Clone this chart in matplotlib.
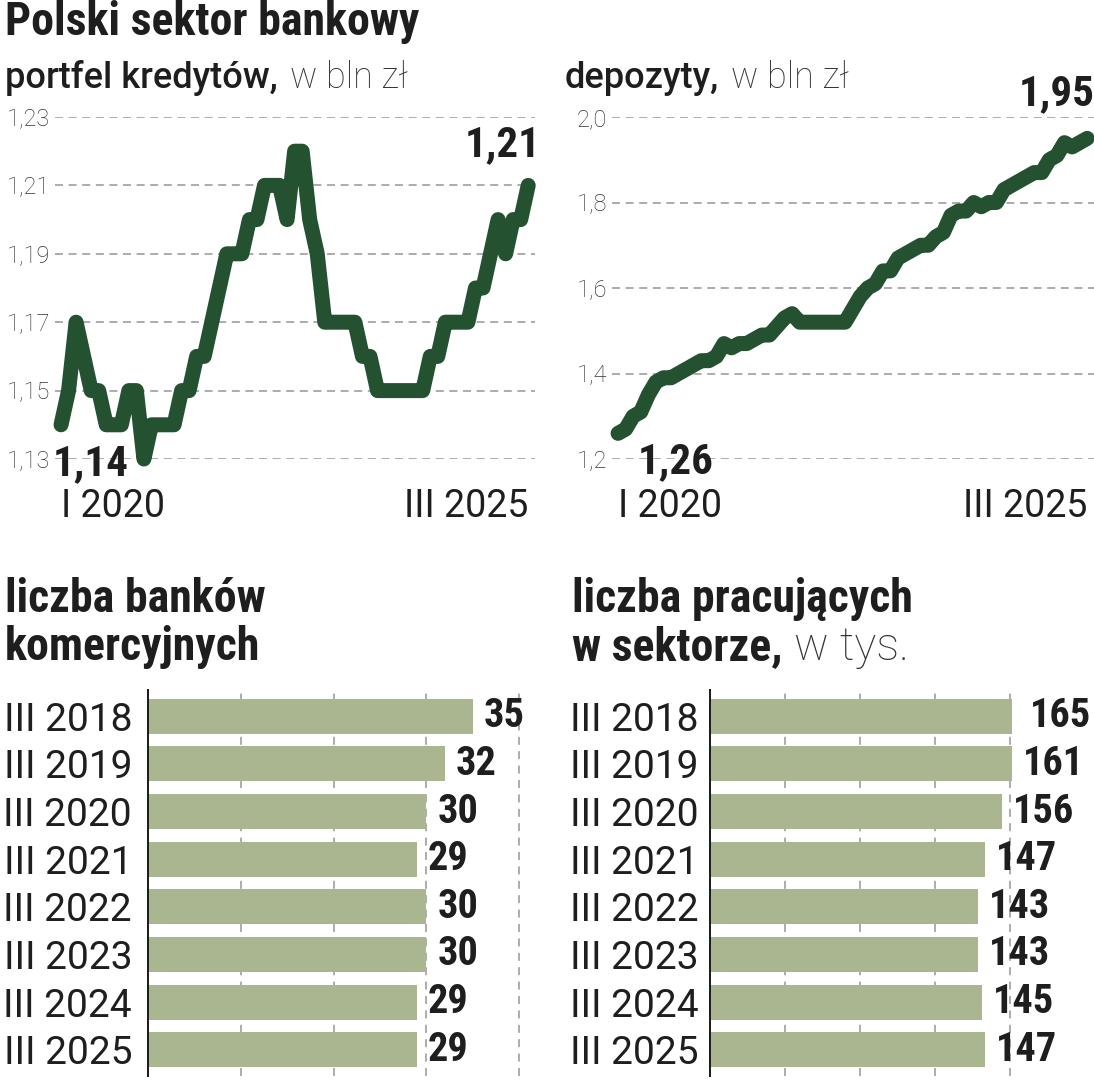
import matplotlib
matplotlib.use("Agg")
import matplotlib.pyplot as plt
from matplotlib import font_manager

# --- data -----------------------------------------------------------------
loans = [1.14, 1.15, 1.17, 1.16, 1.15, 1.15, 1.14, 1.14, 1.14, 1.15, 1.15, 1.13,
         1.14, 1.14, 1.14, 1.14, 1.15, 1.15, 1.16, 1.16, 1.17, 1.18, 1.19, 1.19,
         1.19, 1.20, 1.20, 1.21, 1.21, 1.21, 1.20, 1.22, 1.22, 1.20, 1.19, 1.17,
         1.17, 1.17, 1.17, 1.17, 1.16, 1.16, 1.15, 1.15, 1.15, 1.15, 1.15, 1.15,
         1.15, 1.16, 1.16, 1.17, 1.17, 1.17, 1.17, 1.18, 1.18, 1.19, 1.20, 1.19,
         1.20, 1.20, 1.21]
deposits = [1.26, 1.27, 1.30, 1.31, 1.35, 1.38, 1.39, 1.39, 1.40, 1.41, 1.42, 1.43,
            1.43, 1.44, 1.47, 1.46, 1.47, 1.47, 1.48, 1.49, 1.49, 1.51, 1.53, 1.54,
            1.52, 1.52, 1.52, 1.52, 1.52, 1.52, 1.52, 1.55, 1.58, 1.60, 1.61, 1.64,
            1.64, 1.67, 1.68, 1.69, 1.70, 1.70, 1.72, 1.73, 1.77, 1.78, 1.78, 1.80,
            1.79, 1.80, 1.80, 1.83, 1.84, 1.85, 1.86, 1.87, 1.87, 1.90, 1.91, 1.94,
            1.93, 1.94, 1.95]
loan_ticks = [1.13, 1.15, 1.17, 1.19, 1.21, 1.23]
deposit_ticks = [1.2, 1.4, 1.6, 1.8, 2.0]
period_start = "I 2020"
period_end = "III 2025"

years = ["III 2018", "III 2019", "III 2020", "III 2021",
         "III 2022", "III 2023", "III 2024", "III 2025"]
banks = [35, 32, 30, 29, 30, 30, 29, 29]
employees = [165, 161, 156, 147, 143, 143, 145, 147]

W, H = 1094, 1080
LINE = "#24512f"
BAR = "#a9b68f"
TXT = "#1e1e1e"
GRID = "#9a9a9a"


def pick_font(names):
    for n in names:
        try:
            font_manager.findfont(font_manager.FontProperties(family=n),
                                  fallback_to_default=False)
            return n
        except ValueError:
            pass
    return "DejaVu Sans"


NARROW = pick_font(["Roboto Condensed", "Liberation Sans Narrow", "Roboto"])
PLAIN = pick_font(["Roboto", "Open Sans", "Lato"])


def px(v):
    # pixels -> points at dpi 100
    return v * 0.72


def fx(x):
    return x / W


def fy(y):
    return 1 - y / H


fig = plt.figure(figsize=(W / 100, H / 100), dpi=100)
renderer = fig.canvas.get_renderer()


def mixed(x, y, first, rest, size, family, weight, gap=10):
    t = fig.text(fx(x), fy(y), first, fontsize=size, weight=weight,
                 family=family, color=TXT, va="baseline")
    bb = t.get_window_extent(renderer)
    fig.text(fx(bb.x1 + gap), fy(y), rest, fontsize=size, weight="light",
             family=PLAIN, color="#333333", va="baseline")


# --- titles ---------------------------------------------------------------
fig.text(fx(5), fy(35), "Polski sektor bankowy", fontsize=33, weight="bold",
         family=NARROW, color=TXT, va="baseline")
mixed(5, 88, "portfel kredytów,", "w bln zł", 26, PLAIN, "medium", 12)
mixed(565, 88, "depozyty,", "w bln zł", 26, PLAIN, "medium", 12)
fig.text(fx(5), fy(612), "liczba banków", fontsize=33, weight="bold",
         family=NARROW, color=TXT, va="baseline")
fig.text(fx(5), fy(660), "komercyjnych", fontsize=33, weight="bold",
         family=NARROW, color=TXT, va="baseline")
fig.text(fx(572), fy(612), "liczba pracujących", fontsize=33, weight="bold",
         family=NARROW, color=TXT, va="baseline")
mixed(572, 660, "w sektorze,", "w tys.", 33, NARROW, "bold", 12)


# --- line charts ----------------------------------------------------------
def line_panel(rect, values, ticks, fmt, first_off, last_off):
    ax = fig.add_axes(rect)
    xs = list(range(len(values)))
    ax.plot(xs, values, color=LINE, lw=px(15), solid_capstyle="round",
            solid_joinstyle="round", clip_on=False, zorder=3)
    ax.set_ylim(ticks[0], ticks[-1])
    ax.set_xlim(-0.8, len(values) - 1 + 0.9)
    ax.set_yticks(ticks)
    ax.set_yticklabels([fmt(t).replace(".", ",") for t in ticks],
                       fontsize=17, family=PLAIN, weight="light", color="#333333")
    ax.tick_params(axis="y", length=0, pad=px(5))
    ax.set_xticks([])
    for t in ticks:
        ax.axhline(t, color=GRID, lw=px(1.6), ls=(0, (5, 3.5)), zorder=1)
    for s in ax.spines.values():
        s.set_visible(False)
    ax.patch.set_alpha(0)

    ax.annotate(f"{values[0]:.2f}".replace(".", ","), xy=(0, values[0]),
                xytext=first_off, textcoords="offset points", ha="left",
                va="top", fontsize=31, weight="bold", family=NARROW,
                color=TXT, zorder=5, annotation_clip=False)
    ax.annotate(f"{values[-1]:.2f}".replace(".", ","), xy=(xs[-1], values[-1]),
                xytext=last_off, textcoords="offset points", ha="right",
                va="bottom", fontsize=31, weight="bold", family=NARROW,
                color=TXT, zorder=5, annotation_clip=False)
    ax.text(0, -0.085, period_start, transform=ax.get_xaxis_transform(),
            ha="left", va="top", fontsize=27, family=PLAIN, color=TXT)
    ax.text(xs[-1], -0.085, period_end, transform=ax.get_xaxis_transform(),
            ha="right", va="top", fontsize=27, family=PLAIN, color=TXT)
    return ax


line_panel([fx(55), fy(459), fx(480), 342 / H], loans, loan_ticks,
           lambda t: f"{t:.2f}", (px(-8), px(-18)), (px(12), px(20)))
line_panel([fx(612), fy(459), fx(482), 342 / H], deposits, deposit_ticks,
           lambda t: f"{t:.1f}", (px(20), px(-8)), (px(7), px(24)))


# --- bar charts -----------------------------------------------------------
def bar_panel(rect, values, xmax, grid, pad):
    ax = fig.add_axes(rect)
    ys = list(range(len(values)))
    ax.barh(ys, values, height=0.73, color=BAR, zorder=2)
    ax.set_ylim(len(values) - 0.45, -0.55)
    ax.set_xlim(0, xmax)
    ax.set_yticks(ys)
    ax.set_yticklabels(years, fontsize=28, family=PLAIN, color=TXT)
    ax.tick_params(axis="y", length=0, pad=pad)
    ax.set_xticks([])
    for g in grid:
        ax.axvline(g, color=GRID, lw=px(1.6), ls=(0, (5, 4)), zorder=1)
    for k in ["top", "right", "bottom"]:
        ax.spines[k].set_visible(False)
    ax.spines["left"].set_color(TXT)
    ax.spines["left"].set_linewidth(px(2))
    ax.patch.set_alpha(0)
    for y, v in zip(ys, values):
        ax.annotate(str(v), xy=(v, y), xytext=(px(11), 0),
                    textcoords="offset points", ha="left", va="center",
                    fontsize=29, weight="bold", family=NARROW, color=TXT,
                    annotation_clip=False)
    return ax


bar_panel([fx(148), fy(1076), fx(372), 386 / H], banks, 40.1,
          [10, 20, 30, 40], px(16))
bar_panel([fx(710), fy(1076), fx(302), 386 / H], employees, 161.2,
          [40, 80, 120, 160], px(11))

fig.savefig("out.png", dpi=100)
